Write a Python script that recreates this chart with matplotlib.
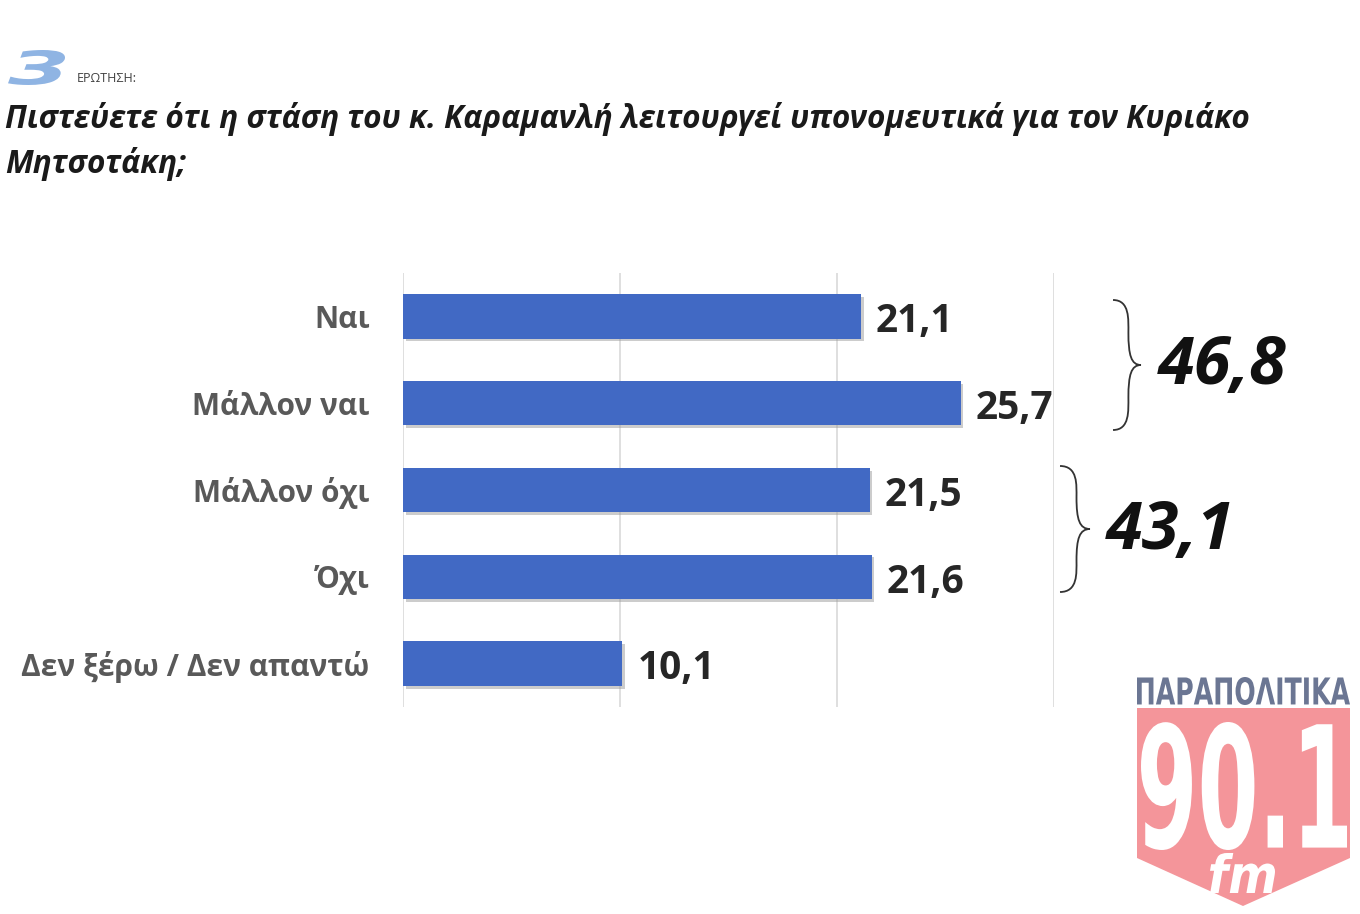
import matplotlib
matplotlib.use("Agg")
from matplotlib import pyplot as plt
from matplotlib.path import Path
from matplotlib.patches import PathPatch, Polygon
from matplotlib.textpath import TextPath
from matplotlib.font_manager import FontProperties
import matplotlib.patheffects as pe

categories = ["Ναι", "Μάλλον ναι", "Μάλλον όχι", "Όχι", "Δεν ξέρω / Δεν απαντώ"]
values = [21.1, 25.7, 21.5, 21.6, 10.1]
value_labels = ["21,1", "25,7", "21,5", "21,6", "10,1"]
groups = [(0, 1), (2, 3)]

title = ("Πιστεύετε ότι η στάση του κ. Καραμανλή λειτουργεί υπονομευτικά για τον Κυριάκο\n"
         "Μητσοτάκη;")

W, H = 1360, 914
plt.rcParams['font.family'] = ['Open Sans', 'DejaVu Sans']


def fx(x):
    return x / W


def fy(y):
    return 1 - y / H


fig = plt.figure(figsize=(13.6, 9.14), dpi=100)
fig.patch.set_facecolor("white")

ax = fig.add_axes([fx(403), fy(707), (1054 - 403) / W, (707 - 273) / H])
ypos = list(range(len(categories)))
bars = ax.barh(ypos, values, height=0.51, color="#4169c4", zorder=3)
for b in bars:
    b.set_path_effects([pe.SimplePatchShadow(offset=(2, -2), shadow_rgbFace="#9a9a9a", alpha=0.5),
                        pe.Normal()])
ax.set_xlim(0, 30)
ax.set_ylim(len(categories) - 0.5, -0.5)
ax.set_xticks([0, 10, 20, 30])
ax.xaxis.grid(True, color="#d9d9d9", linewidth=1.2, zorder=0)
ax.tick_params(axis="x", length=0, labelbottom=False)
ax.tick_params(axis="y", length=0, pad=24)
ax.set_yticks(ypos)
ax.set_yticklabels(categories, fontsize=21.5, fontweight="bold", color="#595959")
for s in ax.spines.values():
    s.set_visible(False)

for y, v, lab in zip(ypos, values, value_labels):
    ax.text(v + 0.7, y + 0.06, lab, va="center", ha="left", fontsize=28,
            fontweight="bold", color="#262626")


def fit_text(s, box, color, **fontkw):
    # draw text as a path stretched into a pixel box (x0, y0, x1, y1), y from top
    x0, y0, x1, y1 = box
    tp = TextPath((0, 0), s, size=100, prop=FontProperties(**fontkw))
    ext = tp.get_extents()
    sx = (x1 - x0) / ext.width
    sy = (y1 - y0) / ext.height
    verts = [(fx(x0 + (vx - ext.x0) * sx), fy(y1 - (vy - ext.y0) * sy)) for vx, vy in tp.vertices]
    fig.patches.append(PathPatch(Path(verts, tp.codes), transform=fig.transFigure,
                                 facecolor=color, edgecolor="none"))


# header
fit_text("3", (8, 50, 65, 85), "#8fb4e3", family="DejaVu Sans", weight="bold", style="italic")
fig.text(fx(77), fy(78), "ΕΡΩΤΗΣΗ:", fontsize=9, color="#404040", va="center", ha="left")
fig.text(fx(5), fy(102), title, fontsize=22.7, fontweight="bold", fontstyle="italic",
         color="#1a1a1a", va="top", ha="left", linespacing=1.42)


def brace(x0, y0, y1, w):
    # right-pointing curly brace in pixel coords
    ym = (y0 + y1) / 2
    pts = [(x0, y0),
           (x0 + w * 0.6, y0), (x0 + w * 0.55, y0 + (ym - y0) * 0.3), (x0 + w * 0.55, y0 + (ym - y0) * 0.5),
           (x0 + w * 0.55, y0 + (ym - y0) * 0.85), (x0 + w * 0.65, ym), (x0 + w, ym),
           (x0 + w * 0.65, ym), (x0 + w * 0.55, ym + (y1 - ym) * 0.15), (x0 + w * 0.55, ym + (y1 - ym) * 0.5),
           (x0 + w * 0.55, ym + (y1 - ym) * 0.7), (x0 + w * 0.6, y1), (x0, y1)]
    codes = [Path.MOVETO] + [Path.CURVE4] * 12
    path = Path([(fx(a), fy(b)) for a, b in pts], codes)
    fig.patches.append(PathPatch(path, transform=fig.transFigure, fill=False,
                                 edgecolor="#333333", linewidth=1.3))


brace_pos = [(1113, 300, 430, 28), (1060, 466, 592, 30)]
total_pos = [(1158, 367), (1106, 531)]
for (i, j), (bx, by0, by1, bw), (tx, ty) in zip(groups, brace_pos, total_pos):
    brace(bx, by0, by1, bw)
    tot = values[i] + values[j]
    fig.text(fx(tx), fy(ty), f"{tot:.1f}".replace(".", ","), fontsize=48,
             fontweight="bold", fontstyle="italic", color="#111111", va="center", ha="left")

# logo
shape = [(1137, 708), (1350, 708), (1350, 858), (1243, 906), (1137, 858)]
fig.patches.append(Polygon([(fx(a), fy(b)) for a, b in shape], closed=True,
                           transform=fig.transFigure, facecolor="#f4959a", edgecolor="none"))
fit_text("ΠΑΡΑΠΟΛΙΤΙΚΑ", (1137, 677, 1350, 705), "#6b7693", family="DejaVu Sans", weight="bold")
fit_text("90.1", (1141, 722, 1347, 850), "white", family="DejaVu Sans", weight="bold")
fit_text("fm", (1210, 853, 1275, 893), "white", family="DejaVu Sans", weight="bold", style="italic")

fig.savefig("out.png", dpi=100, facecolor="white")
